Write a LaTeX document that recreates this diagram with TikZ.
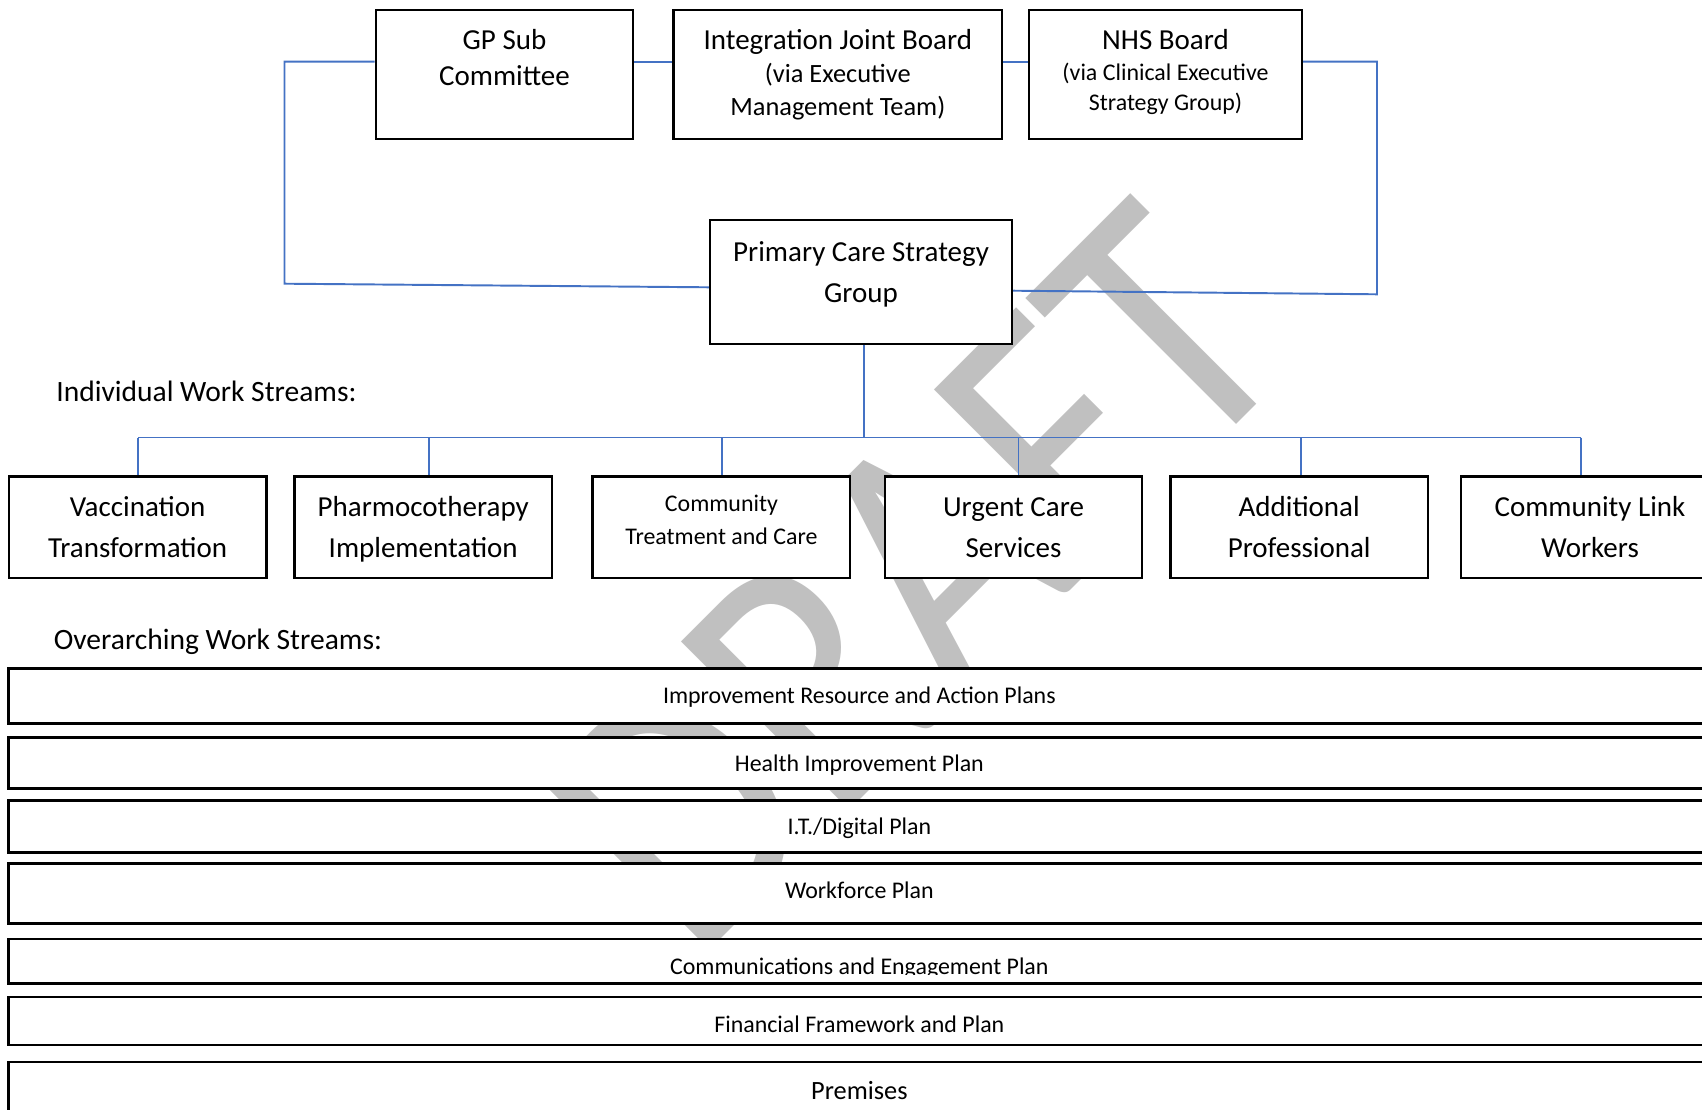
\documentclass[tikz,border=0pt]{standalone}
\usepackage{fontspec}
\setmainfont{Carlito}

\definecolor{linkblue}{RGB}{68,114,196}
\definecolor{wmgrey}{RGB}{192,192,192}

\newcommand{\lgtxt}{\fontsize{16.5}{23.4}\selectfont}
\newcommand{\mdtxt}{\fontsize{15}{19}\selectfont}
\newcommand{\smtxt}{\fontsize{13.6}{17}\selectfont}

\begin{document}
\begin{tikzpicture}[x=0.2mm, y=-0.2mm,
  box/.style={draw, line width=1.4pt, fill=white, inner sep=0pt, align=center},
  topbox/.style={box, minimum height=25.84mm, font=\lgtxt},
  wsbox/.style={box, minimum width=51.5mm, minimum height=20.3mm, text depth=0pt, font=\lgtxt},
  bar/.style={box, minimum width=340.26mm},
  boxtext/.style={inner sep=0pt, align=center},
  bartext/.style={boxtext, font=\smtxt},
  heading/.style={anchor=west, inner sep=0pt, font=\fontsize{16.8}{20}\selectfont},
  link/.style={draw=linkblue, line width=1.1pt},
  wm/.style={text=wmgrey, rotate=45, yscale=1.16, anchor=base, inner sep=0pt,
    font=\fontsize{182}{182}\selectfont}]
  \useasboundingbox (0,0) rectangle (1702,1110);
  \clip (0,0) rectangle (1702,1110);
  \fill[white] (0,0) rectangle (1702,1110);

  % watermark
  \node[wm] (draft) at (997.9,662.5) {DRAFT};

  % boards
  \node[topbox, minimum width=51.46mm] (gp) at (504.5,74.4) {};
  \node[boxtext, font=\fontsize{16.5}{21}\selectfont] (gp-txt) at (504.5,57.5)
    {GP Sub\\Committee};
  \node[topbox, minimum width=65.7mm] (ijb) at (837.8,74.4)
    {Integration Joint Board\\[-4.4pt] \mdtxt (via Executive\\[-4.9pt] \mdtxt Management Team)};
  \node[topbox, minimum width=54.6mm] (nhs) at (1165.5,74.4) {};
  \node[boxtext, font=\lgtxt] (nhs-txt) at (1165.5,71.7)
    {NHS Board\\[-5.8pt] \smtxt (via Clinical Executive\\[-6.5pt] \smtxt Strategy Group)};

  \node[box, minimum width=60.4mm, minimum height=24.8mm] (pcsg) at (861,282) {};
  \node[boxtext, font=\lgtxt] (pcsg-txt) at (861,274) {Primary Care Strategy\\Group};

  % individual work streams
  \node[heading] (indiv) at (56,391.7) {Individual Work Streams:};
  \node[wsbox] (vacc) at (137.6,527.3) {Vaccination\\Transformation};
  \node[wsbox] (pharm) at (423.2,527.3) {Pharmocotherapy\\Implementation};
  \node[wsbox] (ctc) at (721.4,527.3) {};
  \node[boxtext, font=\fontsize{13.6}{19}\selectfont] (ctc-txt) at (721.4,520)
    {Community\\Treatment and Care};
  \node[wsbox] (urgent) at (1013.5,527.3) {Urgent Care\\Services};
  \node[wsbox] (addl) at (1299.2,527.3) {Additional\\Professional};
  \node[wsbox] (clink) at (1590,527.3) {Community Link\\Workers};

  % overarching work streams
  \node[heading] (over) at (53.5,642) {Overarching Work Streams:};
  \node[bar, minimum height=11.08mm] (irap) at (859.35,696) {};
  \node[bar, minimum height=10.2mm] (hip) at (859.35,762.8) {};
  \node[bar, minimum height=10.48mm] (itd) at (859.35,826.5) {};
  \node[bar, minimum height=12.08mm] (wfp) at (859.35,893.5) {};
  \node[bar, minimum height=8.86mm] (cep) at (859.35,961.2) {};
  \node[bar, minimum height=9.6mm] (ffp) at (859.35,1021) {};
  \node[bar, minimum height=11.66mm] (prem) at (859.35,1090.9) {};

  \node[bartext] (irap-txt) at (859.35,697.1) {Improvement Resource and Action Plans};
  \node[bartext] (hip-txt) at (859.35,765) {Health Improvement Plan};
  \node[bartext] (itd-txt) at (859.35,828.7) {I.T./Digital Plan};
  \node[bartext] (wfp-txt) at (859.35,890.2) {Workforce Plan};
  \begin{scope}
    \clip (cep.north west) rectangle ([yshift=1.96mm]cep.south east);
    \node[bartext] (cep-txt) at (859.35,968.2) {Communications and Engagement Plan};
  \end{scope}
  \node[bartext] (ffp-txt) at (859.35,1024.2) {Financial Framework and Plan};
  \node[bartext, font=\mdtxt] (prem-txt) at (859.35,1090.9) {Premises};

  % reporting lines
  \coordinate (ty) at (0,61.7);
  \coordinate (ltop) at (284.5,61.7);
  \coordinate (lbot) at (284.5,283.7);
  \coordinate (rtop) at (1377,61.7);
  \coordinate (rbot) at (1377,294.3);
  \draw[link] (gp.east |- ty) -- (ijb.west |- ty);
  \draw[link] (ijb.east |- ty) -- (nhs.west |- ty);
  \draw[link] (gp.west |- ty) -- (ltop) -- (lbot) -- ([yshift=-1.06mm]pcsg.west);
  \draw[link] (nhs.east |- ty) -- (rtop) -- (rbot) -- ([yshift=-1.74mm]pcsg.east);

  \coordinate (hub) at (864,437.5);
  \draw[link] (pcsg.south -| hub) -- (hub);
  \foreach \b/\x in {vacc/138, pharm/428.6, ctc/722, urgent/1018.5, addl/1301, clink/1581}
  {
    \coordinate (tap-\b) at (\x,437.5);
    \draw[link] (tap-\b) -- (tap-\b |- \b.north);
  }
  \draw[link] (tap-vacc) -- (tap-clink);
\end{tikzpicture}
\end{document}
